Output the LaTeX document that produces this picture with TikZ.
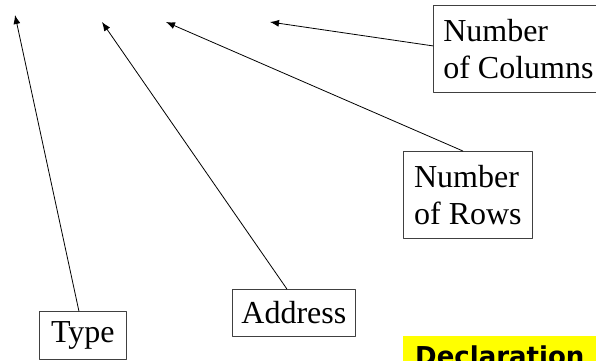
\documentclass[tikz,border=0pt]{standalone}
\usepackage{fontspec}
\usetikzlibrary{arrows.meta}
\setmainfont{Liberation Serif}
\newfontfamily\declfont{DejaVu Sans}
\definecolor{declyellow}{RGB}{255,255,0}
\tikzset{
  label box/.style={draw=black!75,line width=0.8pt,align=left,inner sep=0pt,
    font=\fontsize{32}{37}\selectfont},
  pointer/.style={-{Latex[length=9pt,width=7pt]},line width=0.8pt}
}
\begin{document}
\begin{tikzpicture}[x=1pt,y=-1pt,line cap=round,line join=round]
  \useasboundingbox (0,0) rectangle (596,360);
  \clip (0,0) rectangle (596,360);
  % arrow tips
  \coordinate (typeTip) at (15,15);
  \coordinate (addrTip) at (102,22);
  \coordinate (rowsTip) at (166,22);
  \coordinate (colsTip) at (270,22);
  % labels
  \node[label box,anchor=north west,minimum width=170pt,minimum height=87pt] (cols) at (433,5) {Number\\of Columns};
  \node[label box,anchor=north west,minimum width=129pt,minimum height=87pt] (rows) at (403,151) {Number\\of Rows};
  \node[label box,anchor=north west,minimum width=123pt,minimum height=47pt] (addr) at (232,289) {Address};
  \node[label box,anchor=north west,minimum width=87pt,minimum height=48pt] (type) at (39,311) {Type};
  % pointers
  \draw[pointer] (type.north) ++(-4,0) -- (typeTip);
  \draw[pointer] (addr.north) ++(-7,0) -- (addrTip);
  \draw[pointer] (rows.north) ++(-5,0) -- (rowsTip);
  \draw[pointer] (cols.west) ++(0,-3) -- (colsTip);
  % declaration banner
  \fill[declyellow] (403,336) rectangle (620,380);
  \node[anchor=base west,inner sep=0pt,font=\declfont\bfseries\fontsize{26}{30}\selectfont] (decl) at (415,365) {Declaration};
\end{tikzpicture}
\end{document}
